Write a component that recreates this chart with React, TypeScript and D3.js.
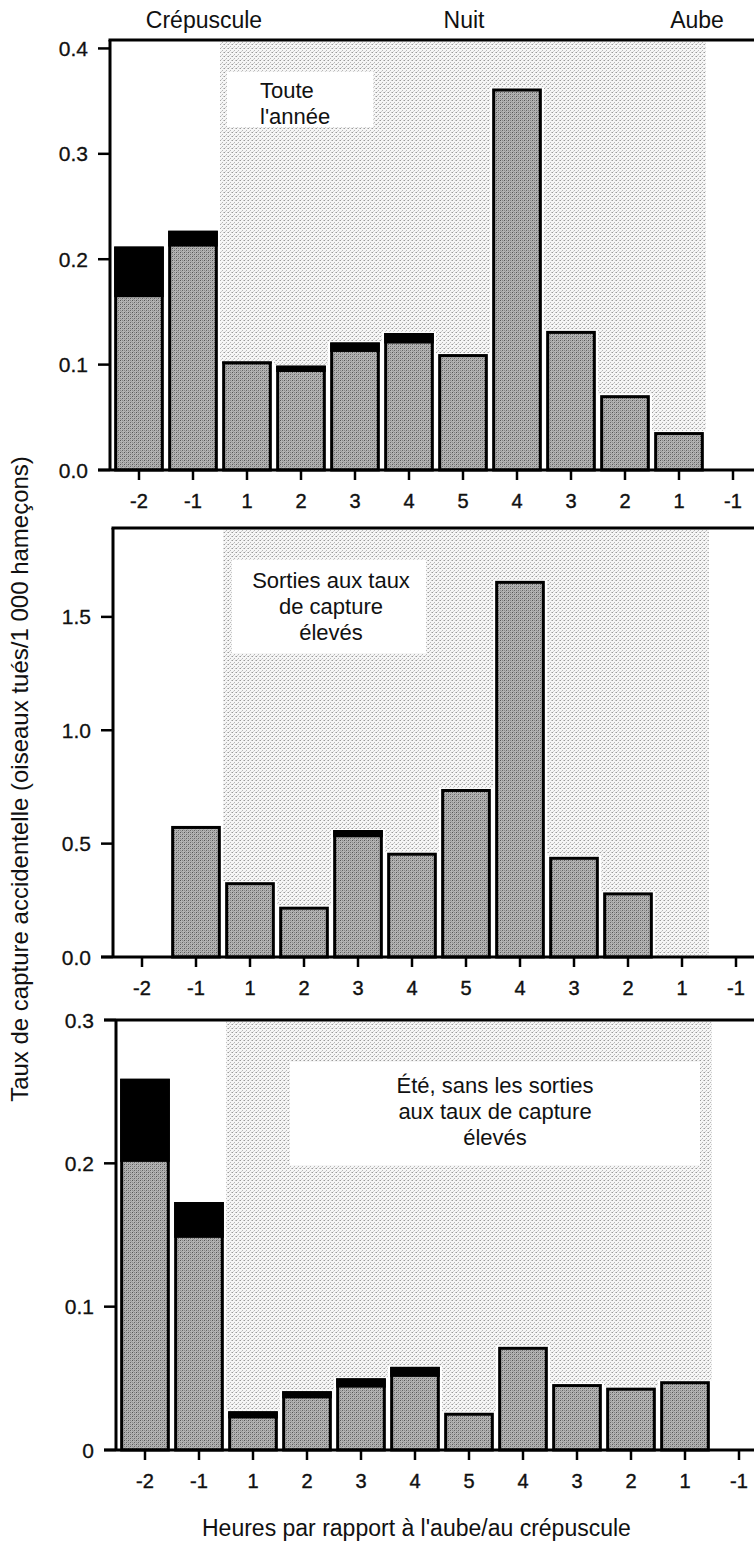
import React from "react";
import * as d3 from "d3";

// hour slots, dusk -> night -> dawn
const hourLabels = ["-2", "-1", "1", "2", "3", "4", "5", "4", "3", "2", "1", "-1"];
const periodLabels = ["Crépuscule", "Nuit", "Aube"];

// Toute l'année
const topTotal = [0.212, 0.227, 0.103, 0.099, 0.121, 0.130, 0.110, 0.362, 0.132, 0.071, 0.036, 0];
const topGray = [0.164, 0.212, 0.101, 0.093, 0.112, 0.120, 0.110, 0.362, 0.132, 0.071, 0.036, 0];
const topTicks = [0, 0.1, 0.2, 0.3, 0.4];
const topTickLabels = ["0.0", "0.1", "0.2", "0.3", "0.4"];

// Sorties aux taux de capture élevés
const midTotal = [0, 0.578, 0.33, 0.222, 0.56, 0.46, 0.741, 1.659, 0.442, 0.285, 0, 0];
const midGray = [0, 0.578, 0.33, 0.222, 0.528, 0.46, 0.741, 1.659, 0.442, 0.285, 0, 0];
const midTicks = [0, 0.5, 1.0, 1.5];
const midTickLabels = ["0.0", "0.5", "1.0", "1.5"];

// Été, sans les sorties aux taux de capture élevés
const lowTotal = [0.259, 0.173, 0.027, 0.041, 0.050, 0.058, 0.026, 0.072, 0.046, 0.0435, 0.048, 0];
const lowGray = [0.201, 0.148, 0.022, 0.036, 0.0435, 0.051, 0.026, 0.072, 0.046, 0.0435, 0.048, 0];
const lowTicks = [0, 0.1, 0.2, 0.3];
const lowTickLabels = ["0", "0.1", "0.2", "0.3"];

const W = 754;
const H = 1542;
const FONT = "'Liberation Sans', Arial, Helvetica, sans-serif";
const INK = "#111";
const slots = hourLabels.map((_, i) => String(i));

const panels = [
    {
        id: "top", total: topTotal, gray: topGray, ticks: topTicks, tickLabels: topTickLabels,
        yTop: 40, y0: 470, yMax: 0.408, axisX: 110, topTick: false,
        box: { x: 227, y: 72, w: 146, h: 55 },
        text: ["Toute", "l'année"], textX: 260, textY: 98, anchor: "start",
    },
    {
        id: "mid", total: midTotal, gray: midGray, ticks: midTicks, tickLabels: midTickLabels,
        yTop: 528, y0: 957, yMax: 1.892, axisX: 113, topTick: false,
        box: { x: 232, y: 560, w: 194, h: 93 },
        text: ["Sorties aux taux", "de capture", "élevés"], textX: 331, textY: 588, anchor: "middle",
    },
    {
        id: "low", total: lowTotal, gray: lowGray, ticks: lowTicks, tickLabels: lowTickLabels,
        yTop: 1020, y0: 1450, yMax: 0.3, axisX: 116, topTick: true,
        box: { x: 290, y: 1062, w: 410, h: 103 },
        text: ["Été, sans les sorties", "aux taux de capture", "élevés"], textX: 495, textY: 1093, anchor: "middle",
    },
];

const Panel = ({ p }) => {
    const x = d3.scaleBand()
        .domain(slots)
        .range([p.axisX + 2, p.axisX + 2 + 12 * 54])
        .paddingInner(0.08)
        .paddingOuter(0.04);
    const y = d3.scaleLinear().domain([0, p.yMax]).range([p.y0, p.yTop]);
    const bw = x.bandwidth();
    const nightX0 = x("2") - 2;
    const nightX1 = x("10") + bw + 2;

    return (
        <g>
            {/* night shading */}
            <rect x={nightX0} y={p.yTop} width={nightX1 - nightX0} height={p.y0 - p.yTop} fill="url(#nightTex)" />

            {/* label box */}
            <rect x={p.box.x} y={p.box.y} width={p.box.w} height={p.box.h} fill="white" />
            {p.text.map((t, i) => (
                <text key={i} x={p.textX} y={p.textY + i * 26} textAnchor={p.anchor}
                    fontSize={22} fontFamily={FONT} fill={INK}>{t}</text>
            ))}

            {/* bars */}
            {p.total.map((v, i) => {
                if (v <= 0) return null;
                const bx = x(slots[i]);
                const yt = y(v);
                const yg = y(p.gray[i]);
                return (
                    <g key={i}>
                        <rect x={bx - 2.2} y={yt - 1} width={bw + 4.4} height={p.y0 - yt + 1} fill="white" />
                        <rect x={bx + 1.5} y={yt + 1.5} width={bw - 3} height={p.y0 - yt - 1.5} fill="url(#barTex)" />
                        {yg > yt + 0.5 && (
                            <rect x={bx} y={yt} width={bw} height={yg - yt} fill="black" />
                        )}
                        <rect x={bx + 1.5} y={yt + 1.5} width={bw - 3} height={p.y0 - yt - 1.5}
                            fill="none" stroke="black" strokeWidth={3} />
                    </g>
                );
            })}

            {/* frame */}
            <line x1={p.topTick ? p.axisX - 12 : p.axisX - 1.5} y1={p.yTop} x2={W} y2={p.yTop} stroke="black" strokeWidth={3} />
            <line x1={p.axisX} y1={p.yTop} x2={p.axisX} y2={p.y0} stroke="black" strokeWidth={3} />
            <line x1={p.axisX - 12} y1={p.y0} x2={W} y2={p.y0} stroke="black" strokeWidth={3} />

            {/* y ticks */}
            {p.ticks.map((t, i) => (
                <g key={i}>
                    <line x1={p.axisX - 12} x2={p.axisX} y1={y(t)} y2={y(t)} stroke="black" strokeWidth={2.5} />
                    <text x={p.axisX - 22} y={y(t)} dy="0.36em" textAnchor="end"
                        fontSize={21} fontFamily={FONT} fill={INK} stroke={INK} strokeWidth={0.3}>{p.tickLabels[i]}</text>
                </g>
            ))}

            {/* x ticks */}
            {slots.map((s, i) => (
                <g key={s}>
                    <line x1={x(s) + bw / 2} x2={x(s) + bw / 2} y1={p.y0} y2={p.y0 + 10} stroke="black" strokeWidth={2.5} />
                    <text x={x(s) + bw / 2} y={p.y0 + 38} textAnchor="middle"
                        fontSize={20} fontFamily={FONT} fill={INK} stroke={INK} strokeWidth={0.4}>{hourLabels[i]}</text>
                </g>
            ))}
        </g>
    );
};

export default function App() {
    const periodX = [204, 464, 697];
    return (
        <svg width={W} height={H} style={{ position: "absolute", left: 0, top: 0, background: "white" }}>
            <defs>
                <pattern id="barTex" width="4" height="4" patternUnits="userSpaceOnUse">
                    <rect width="4" height="4" fill="#b4b4b4" />
                    <rect x="0" y="0" width="1" height="1" fill="#555" />
                    <rect x="2" y="2" width="1" height="1" fill="#666" />
                    <rect x="2" y="0" width="1" height="1" fill="#858585" />
                    <rect x="0" y="2" width="1" height="1" fill="#8a8a8a" />
                    <rect x="1" y="3" width="1" height="1" fill="#9a9a9a" />
                    <rect x="3" y="1" width="1" height="1" fill="#a0a0a0" />
                </pattern>
                <pattern id="nightTex" width="4" height="4" patternUnits="userSpaceOnUse">
                    <rect width="4" height="4" fill="#f6f6f6" />
                    <rect x="0" y="0" width="1" height="1" fill="#9a9a9a" />
                    <rect x="2" y="2" width="1" height="1" fill="#b6b6b6" />
                    <rect x="3" y="0" width="1" height="1" fill="#c8c8c8" />
                    <rect x="1" y="3" width="1" height="1" fill="#d0d0d0" />
                </pattern>
            </defs>

            {periodLabels.map((t, i) => (
                <text key={t} x={periodX[i]} y={28} textAnchor="middle" fontSize={23} fontFamily={FONT} fill={INK}>{t}</text>
            ))}

            {panels.map((p) => <Panel key={p.id} p={p} />)}

            {/* axis titles */}
            <text transform="translate(28,779) rotate(-90)" textAnchor="middle" fontSize={24} fontFamily={FONT} fill={INK}>
                Taux de capture accidentelle (oiseaux tués/1 000 hameçons)
            </text>
            <text x={202} y={1536} textAnchor="start" fontSize={23} fontFamily={FONT} fill={INK}>
                Heures par rapport à l'aube/au crépuscule
            </text>
        </svg>
    );
}
